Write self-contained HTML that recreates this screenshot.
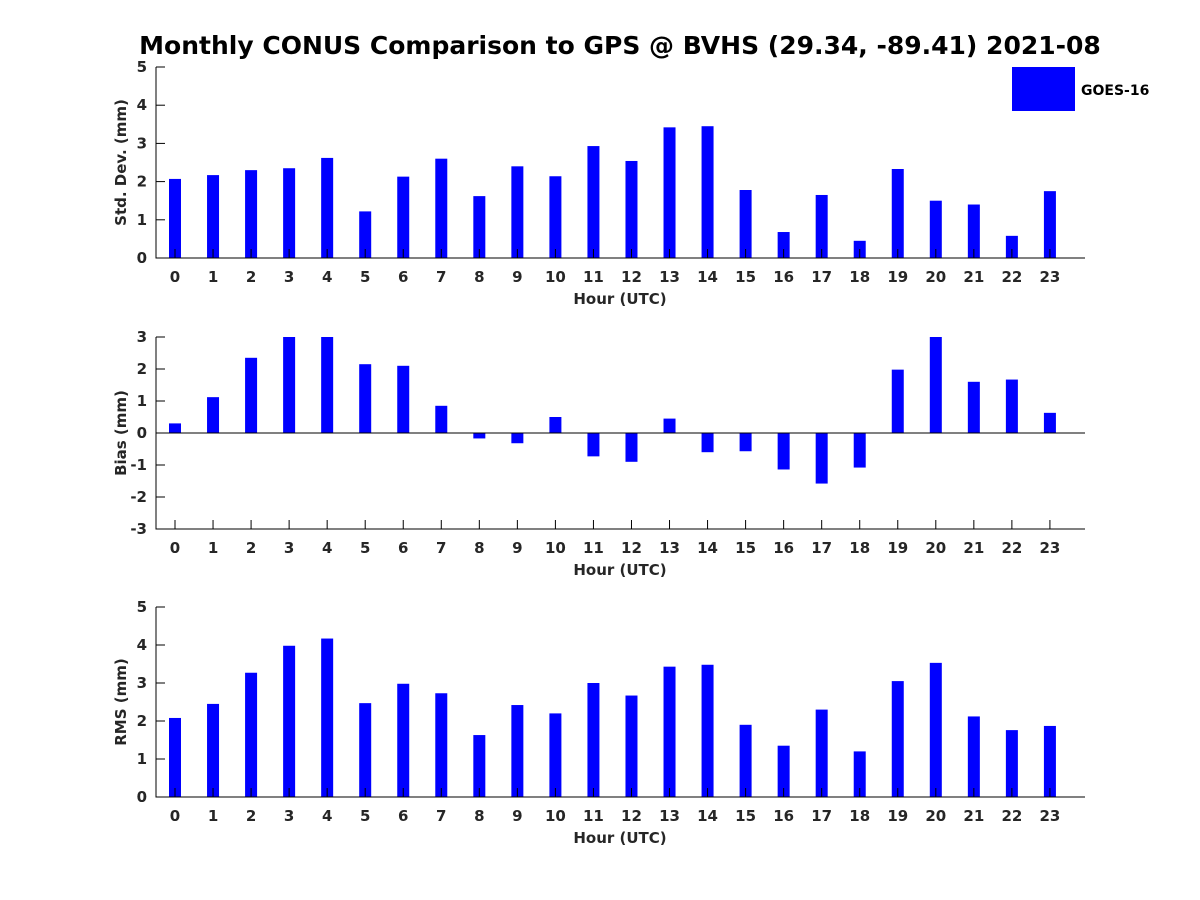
<!DOCTYPE html>
<html><head><meta charset="utf-8"><style>
body{margin:0;background:#fff;}
svg{display:block;font-family:"DejaVu Sans","Liberation Sans",sans-serif;font-weight:bold;}
</style></head><body>
<svg id="chart" width="1200" height="900">
<text x="620" y="54" text-anchor="middle" font-size="25" fill="#000">Monthly CONUS Comparison to GPS @ BVHS (29.34, -89.41) 2021-08</text>
<rect x="1012" y="67" width="63" height="44" fill="#0000ff"/>
<text x="1081" y="95" font-size="14" fill="#000">GOES-16</text>
</svg>
<script>
const hours=[0,1,2,3,4,5,6,7,8,9,10,11,12,13,14,15,16,17,18,19,20,21,22,23];
const stdDev=[2.07,2.17,2.3,2.35,2.62,1.22,2.13,2.6,1.62,2.4,2.14,2.93,2.54,3.42,3.45,1.78,0.68,1.65,0.45,2.33,1.5,1.4,0.58,1.75];
const bias=[0.3,1.12,2.35,3.0,3.0,2.15,2.1,0.85,-0.17,-0.32,0.5,-0.73,-0.9,0.45,-0.6,-0.57,-1.14,-1.58,-1.08,1.98,3.0,1.6,1.67,0.63];
const rms=[2.08,2.45,3.27,3.98,4.17,2.47,2.98,2.73,1.63,2.42,2.2,3.0,2.67,3.43,3.48,1.9,1.35,2.3,1.2,3.05,3.53,2.12,1.76,1.87];
const yTicks1=[0,1,2,3,4,5], yTicks2=[-3,-2,-1,0,1,2,3], yTicks3=[0,1,2,3,4,5];
const svg=document.getElementById('chart');
const NS='http://www.w3.org/2000/svg';
function mk(tag,attrs){const e=document.createElementNS(NS,tag);for(const k in attrs)e.setAttribute(k,attrs[k]);svg.appendChild(e);return e;}
const L=156,R=1085;
function xs(h){return 175+h*38.04;}
function panel(key,vals,ticks,top,bottom,ymin,ymax,ylabel){
  const ys=v=>bottom-(v-ymin)/(ymax-ymin)*(bottom-top);
  vals.forEach((v,i)=>{
    const vv=Math.max(ymin,Math.min(ymax,v));
    const y0=ys(Math.max(0,ymin)),y1=ys(vv);
    const r=mk('rect',{x:xs(hours[i])-6,y:Math.min(y0,y1),width:12,height:Math.abs(y1-y0),fill:'#0000ff'});
    
    
  });
  if(ymin<0){const z=mk('line',{x1:L,x2:R,y1:ys(0),y2:ys(0),stroke:'#000','stroke-width':1});
    }
  const ax=mk('path',{d:`M${L},${top}V${bottom}H${R}`,fill:'none',stroke:'#000','stroke-width':1});
  
  ticks.forEach(t=>{
    const y=ys(t);
    mk('line',{x1:L,x2:L+9,y1:y,y2:y,stroke:'#000'});
    const tx=mk('text',{x:L-9,y:y+5,'text-anchor':'end','font-size':15,fill:'#262626'});
    tx.textContent=t;
    
  });
  hours.forEach(h=>{
    const x=xs(h);
    mk('line',{x1:x,x2:x,y1:bottom,y2:bottom-9,stroke:'#000'});
    const tx=mk('text',{x:x,y:bottom+24,'text-anchor':'middle','font-size':15,fill:'#262626'});
    tx.textContent=h;
    
  });
  const xl=mk('text',{x:620,y:bottom+46,'text-anchor':'middle','font-size':15,fill:'#262626'});
  xl.textContent='Hour (UTC)';
  
  const cy=(top+bottom)/2;
  const yl=mk('text',{x:126,y:cy,'text-anchor':'middle','font-size':15,fill:'#262626',transform:`rotate(-90 126 ${cy})`});
  yl.textContent=ylabel;
  
}
panel('std-dev',stdDev,yTicks1,67,258,0,5,'Std. Dev. (mm)');
panel('bias',bias,yTicks2,337,529,-3,3,'Bias (mm)');
panel('rms',rms,yTicks3,607,797,0,5,'RMS (mm)');
</script>
</body></html>
